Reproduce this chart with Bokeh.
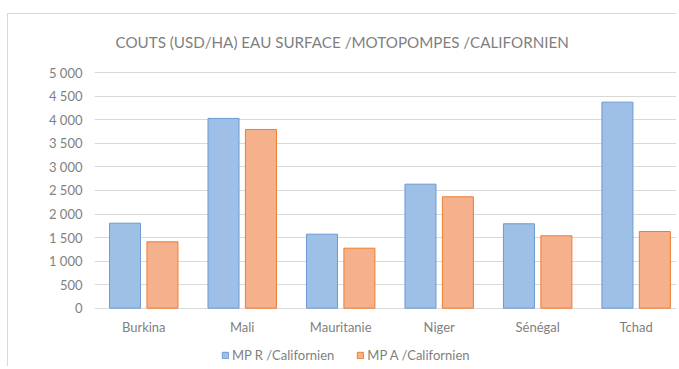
from bokeh.plotting import figure
from bokeh.models import Range1d, FixedTicker, Legend, LegendItem, ColumnDataSource
from bokeh.core.properties import value
from bokeh.embed import file_html
from bokeh.resources import INLINE

categories = ["Burkina", "Mali", "Mauritanie", "Niger", "Sénégal", "Tchad"]
mp_r = [1805, 4030, 1572, 2634, 1793, 4376]
mp_a = [1410, 3796, 1274, 2366, 1538, 1629]
series_names = ["MP R /Californien", "MP A /Californien"]
title_text = "COUTS (USD/HA) EAU SURFACE /MOTOPOMPES /CALIFORNIEN"
y_ticks = [0, 500, 1000, 1500, 2000, 2500, 3000, 3500, 4000, 4500, 5000]
y_tick_labels = ["0", "500", "1 000", "1 500", "2 000", "2 500", "3 000", "3 500", "4 000", "4 500", "5 000"]

FONT = "Lato"
GRAY = "#7f7f7f"

idx = list(range(len(categories)))
src = ColumnDataSource(dict(
    xr=[i - 0.19 for i in idx],
    xa=[i + 0.19 for i in idx],
    r=mp_r,
    a=mp_a,
))
# category labels drawn under the baseline, inside the extended plot area
LABEL_Y = -395
lab_src = ColumnDataSource(dict(x=idx, y=[LABEL_Y] * len(idx), t=categories))

p = figure(width=669, height=353, output_backend="svg", toolbar_location=None,
           x_range=Range1d(-0.5, 5.42), y_range=Range1d(-1260, 5176),
           min_border_left=86, min_border_right=0, min_border_top=50, min_border_bottom=0,
           margin=(13, 0, 0, 7),
           styles={"border-top": "1px solid #d9d9d9", "border-left": "1px solid #d9d9d9"})

p.outline_line_color = None
p.background_fill_color = "white"
p.border_fill_color = "white"

rb = p.vbar(x="xr", top="r", width=0.315, bottom=0, source=src,
            fill_color="#9ebfe6", line_color="#6b9bd1", line_width=1)
ra = p.vbar(x="xa", top="a", width=0.315, bottom=0, source=src,
            fill_color="#f5b08c", line_color="#ed7d31", line_width=1)

p.text(x="x", y="y", text="t", source=lab_src, text_font=value(FONT),
       text_font_size=value("13px"), text_color=GRAY,
       text_align="center", text_baseline="middle")

# axes
p.xaxis.visible = False

p.yaxis.ticker = FixedTicker(ticks=y_ticks)
p.yaxis.major_label_overrides = {t: l for t, l in zip(y_ticks, y_tick_labels)}
p.yaxis.major_tick_line_color = None
p.yaxis.minor_tick_line_color = None
p.yaxis.major_tick_out = 0
p.yaxis.major_label_standoff = 12
p.yaxis.axis_line_color = None
p.yaxis.major_label_text_font = FONT
p.yaxis.major_label_text_font_size = "13px"
p.yaxis.major_label_text_color = GRAY

p.xgrid.grid_line_color = None
p.ygrid.ticker = FixedTicker(ticks=y_ticks)
p.ygrid.grid_line_color = "#d9d9d9"
p.ygrid.grid_line_width = 1

# title
p.title.text = title_text
p.title.align = "left"
p.title.offset = 21
p.title.standoff = 28
p.title.text_font = FONT
p.title.text_font_size = "15.2px"
p.title.text_font_style = "normal"
p.title.text_color = GRAY

legend = Legend(items=[LegendItem(label=series_names[0], renderers=[rb]),
                       LegendItem(label=series_names[1], renderers=[ra])],
                location=(127, 4), orientation="horizontal",
                padding=0, margin=0, spacing=22, label_standoff=3,
                glyph_width=8, glyph_height=8, label_height=14,
                border_line_color=None, background_fill_alpha=0,
                label_text_font=FONT, label_text_font_size="13px",
                label_text_color=GRAY)
p.add_layout(legend, "center")

open("out.html", "w").write(file_html(p, INLINE))
